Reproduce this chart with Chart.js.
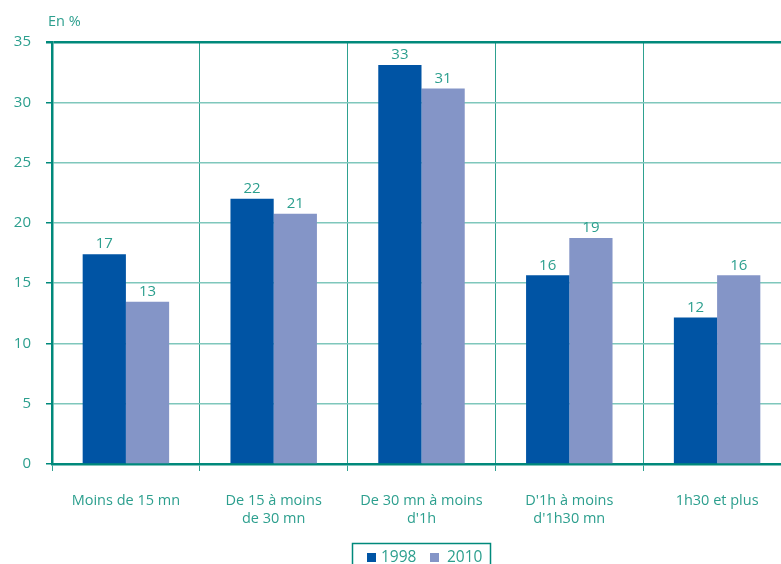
<!DOCTYPE html>
<html lang="fr">
<head>
<meta charset="utf-8" />
<title>Temps de trajet</title>
<script src="https://cdn.jsdelivr.net/npm/chart.js@4.4.1/dist/chart.umd.min.js"></script>
<style>
  html, body { margin: 0; padding: 0; background: #fff; }
  #wrap { width: 781px; height: 564px; overflow: hidden; position: relative; }
  #box { width: 800px; height: 600px; }
</style>
</head>
<body>
<div id="wrap"><div id="box"><canvas id="c" width="800" height="600"></canvas></div></div>
<script>
// data
const categories = [
  ['Moins de 15 mn'],
  ['De 15 à moins', 'de 30 mn'],
  ['De 30 mn à moins', "d'1h"],
  ["D'1h à moins", "d'1h30 mn"],
  ['1h30 et plus'],
]
const values1998 = [17.4, 22.0, 33.1, 15.65, 12.15]
const values2010 = [13.45, 20.75, 31.15, 18.75, 15.65]
const yTicks = [0, 5, 10, 15, 20, 25, 30, 35]

const TEXT = '#2c9f8e'
const AXIS = '#00897b'
const GRID_H = '#7fc7bc'
const GRID_V = '#2ea190'
const FONT = '"Open Sans", "Noto Sans", sans-serif'

const extras = {
  id: 'extras',
  afterDatasetsDraw(chart) {
    const ctx = chart.ctx
    ctx.save()
    ctx.fillStyle = TEXT
    ctx.font = '15px ' + FONT
    ctx.textAlign = 'center'
    ctx.textBaseline = 'middle'
    chart.data.datasets.forEach((ds, i) => {
      chart.getDatasetMeta(i).data.forEach((bar, j) => {
        ctx.fillText(String(Math.round(ds.data[j])), bar.x, bar.y - 10)
      })
    })
    // unit label
    ctx.textAlign = 'left'
    ctx.font = '14.5px ' + FONT
    ctx.fillText('En %', 48, 22)
    // legend with frame
    ctx.strokeStyle = AXIS
    ctx.lineWidth = 1.5
    ctx.strokeRect(352.5, 543.5, 138, 40)
    ctx.font = '15.5px ' + FONT
    const items = [[367, 381], [430, 447]]
    chart.data.datasets.forEach((ds, i) => {
      ctx.fillStyle = ds.backgroundColor
      ctx.fillRect(items[i][0], 553, 9, 9)
      ctx.fillStyle = TEXT
      ctx.fillText(ds.label, items[i][1], 558)
    })
    ctx.restore()
  },
}

new Chart(document.getElementById('c'), {
  type: 'bar',
  data: {
    labels: categories,
    datasets: [
      { label: '1998', data: values1998, backgroundColor: '#0054a4' },
      { label: '2010', data: values2010, backgroundColor: '#8495c7' },
    ],
  },
  options: {
    responsive: false,
    animation: false,
    layout: { padding: { top: 42, right: 9, left: 0, bottom: 0 } },
    categoryPercentage: 0.585,
    barPercentage: 1,
    plugins: { legend: { display: false }, tooltip: { enabled: false } },
    scales: {
      x: {
        offset: true,
        grid: { offset: true, color: GRID_V, lineWidth: 1, tickLength: 7, tickColor: GRID_V },
        border: { color: AXIS, width: 2.5 },
        ticks: { color: TEXT, font: { family: FONT, size: 14.5, lineHeight: 1.3 }, padding: 20, maxRotation: 0, autoSkip: false },
        afterFit(s) { s.height = 136 },
      },
      y: {
        min: 0,
        max: 35,
        afterBuildTicks(s) { s.ticks = yTicks.map(v => ({ value: v })) },
        grid: {
          color: c => (c.tick && c.tick.value === 35 ? AXIS : GRID_H),
          lineWidth: c => (c.tick && c.tick.value === 35 ? 2.5 : 1.5),
          tickLength: 6,
          tickColor: AXIS,
        },
        border: { color: AXIS, width: 2.5 },
        ticks: { color: TEXT, font: { family: FONT, size: 15 }, padding: 15 },
        afterFit(s) { s.width = 52 },
      },
    },
  },
  plugins: [extras],
})
</script>
</body>
</html>
